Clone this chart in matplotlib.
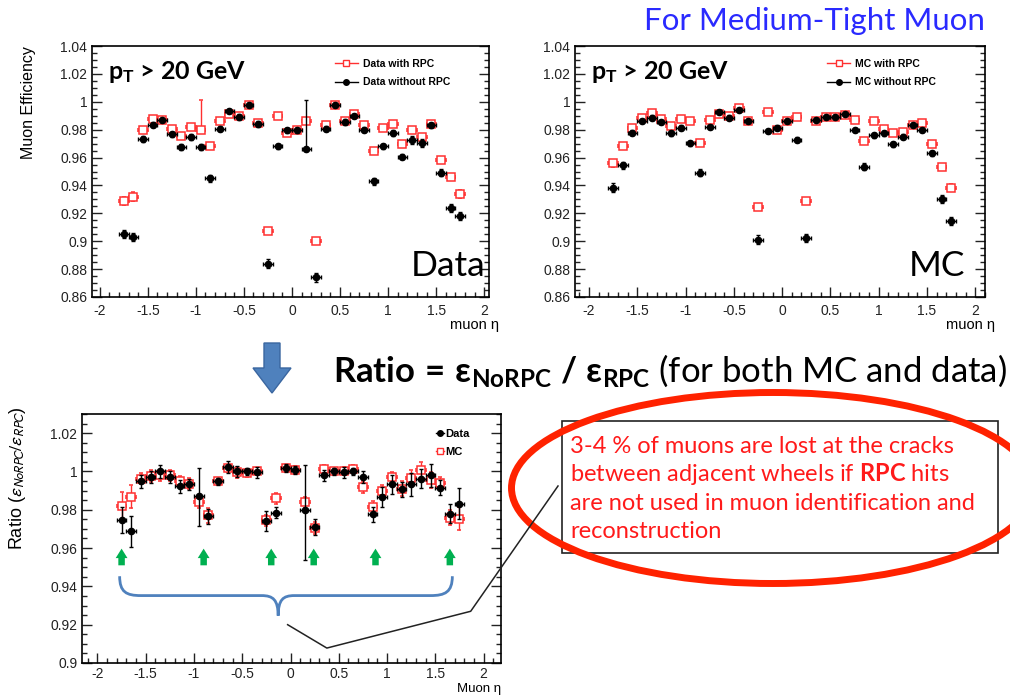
import numpy as np
import matplotlib
matplotlib.use("Agg")
import matplotlib.pyplot as plt
from matplotlib.lines import Line2D
from matplotlib.patches import Ellipse, Rectangle, Polygon, PathPatch
from matplotlib.path import Path
from matplotlib.ticker import MultipleLocator, FuncFormatter

# ---------------- eta bins ----------------
eta = [-1.75, -1.65, -1.55, -1.45, -1.35, -1.25, -1.15, -1.05, -0.95, -0.85,
       -0.75, -0.65, -0.55, -0.45, -0.35, -0.25, -0.15, -0.05, 0.05, 0.15,
       0.25, 0.35, 0.45, 0.55, 0.65, 0.75, 0.85, 0.95, 1.05, 1.15,
       1.25, 1.35, 1.45, 1.55, 1.65, 1.75]
bin_half_width = 0.05

# ---------------- data efficiencies ----------------
data_rpc = [0.929, 0.932, 0.9795, 0.9877, 0.9867, 0.9807, 0.9754, 0.982, 0.980, 0.968,
            0.9863, 0.991, 0.9896, 0.9976, 0.985, 0.907, 0.9896, 0.9776, 0.9795, 0.9863,
            0.900, 0.9831, 0.9976, 0.9863, 0.991, 0.983, 0.9646, 0.981, 0.984, 0.970,
            0.9795, 0.9747, 0.984, 0.958, 0.946, 0.934]
data_rpc_err_lo = [0.003, 0.003, 0.0015, 0.0015, 0.0015, 0.0015, 0.0015, 0.0015, 0.0015, 0.002,
                   0.0015, 0.0015, 0.0015, 0.0012, 0.0015, 0.002, 0.0015, 0.0015, 0.0015, 0.0015,
                   0.002, 0.0015, 0.0012, 0.0015, 0.0015, 0.0015, 0.002, 0.0015, 0.0015, 0.002,
                   0.002, 0.002, 0.0015, 0.002, 0.002, 0.003]
data_rpc_err_hi = [0.003, 0.003, 0.0015, 0.0015, 0.0015, 0.0015, 0.0015, 0.0015, 0.021, 0.002,
                   0.0015, 0.0015, 0.0015, 0.0012, 0.0015, 0.002, 0.0015, 0.0015, 0.0015, 0.0015,
                   0.002, 0.0015, 0.0012, 0.0015, 0.0015, 0.0015, 0.002, 0.0015, 0.0015, 0.002,
                   0.002, 0.002, 0.0015, 0.002, 0.002, 0.003]

data_norpc = [0.905, 0.903, 0.9735, 0.9836, 0.9867, 0.9766, 0.9675, 0.9747, 0.9675, 0.945,
              0.9807, 0.9935, 0.989, 0.9976, 0.984, 0.884, 0.968, 0.9795, 0.9795, 0.9663,
              0.874, 0.9807, 0.9976, 0.9855, 0.9896, 0.980, 0.943, 0.968, 0.9776, 0.9607,
              0.9728, 0.9704, 0.983, 0.949, 0.924, 0.918]
data_norpc_err_lo = [0.003, 0.003, 0.002, 0.002, 0.0015, 0.002, 0.002, 0.002, 0.002, 0.0025,
                     0.002, 0.0015, 0.002, 0.0012, 0.002, 0.003, 0.002, 0.002, 0.002, 0.0015,
                     0.003, 0.002, 0.0012, 0.002, 0.0015, 0.002, 0.0025, 0.002, 0.002, 0.002,
                     0.003, 0.003, 0.002, 0.0025, 0.003, 0.003]
data_norpc_err_hi = [0.003, 0.003, 0.002, 0.002, 0.0015, 0.002, 0.002, 0.002, 0.002, 0.0025,
                     0.002, 0.0015, 0.002, 0.0012, 0.002, 0.003, 0.002, 0.002, 0.002, 0.035,
                     0.003, 0.002, 0.0012, 0.002, 0.0015, 0.002, 0.0025, 0.002, 0.002, 0.002,
                     0.003, 0.003, 0.002, 0.0025, 0.003, 0.003]

# ---------------- MC efficiencies ----------------
mc_rpc = [0.9558, 0.9683, 0.9815, 0.9882, 0.9918, 0.9875, 0.9827, 0.9875, 0.9865, 0.9702,
          0.987, 0.9913, 0.9899, 0.9952, 0.9863, 0.9245, 0.9928, 0.9798, 0.9863, 0.9894,
          0.9291, 0.9865, 0.9894, 0.9894, 0.9904, 0.987, 0.9719, 0.9865, 0.9803, 0.9779,
          0.9786, 0.9832, 0.9846, 0.9697, 0.9534, 0.9385]
mc_rpc_err = [0.0025, 0.002, 0.0015, 0.0012, 0.0012, 0.0012, 0.0015, 0.0012, 0.0012, 0.0018,
              0.0012, 0.0012, 0.0012, 0.0012, 0.0012, 0.0022, 0.0012, 0.0012, 0.0012, 0.0012,
              0.0022, 0.0012, 0.0012, 0.0012, 0.0012, 0.0012, 0.0018, 0.0012, 0.0012, 0.0015,
              0.0015, 0.0012, 0.0012, 0.0018, 0.002, 0.0025]
mc_norpc = [0.9385, 0.9546, 0.9779, 0.9863, 0.9887, 0.9853, 0.9774, 0.9815, 0.9702, 0.949,
            0.9822, 0.993, 0.9887, 0.9942, 0.9863, 0.9012, 0.9793, 0.9815, 0.9863, 0.9726,
            0.9024, 0.987, 0.989, 0.9894, 0.9909, 0.9798, 0.9534, 0.976, 0.9774, 0.9697,
            0.975, 0.9834, 0.9798, 0.963, 0.9303, 0.9144]
mc_norpc_err = [0.003, 0.0025, 0.0018, 0.0015, 0.0015, 0.0015, 0.0018, 0.0015, 0.0018, 0.0025,
                0.0015, 0.0012, 0.0015, 0.0012, 0.0015, 0.003, 0.0015, 0.0015, 0.0015, 0.0018,
                0.003, 0.0015, 0.0012, 0.0012, 0.0012, 0.0015, 0.0025, 0.0018, 0.0018, 0.0018,
                0.0018, 0.0015, 0.0015, 0.002, 0.003, 0.003]

# ---------------- ratio eps(NoRPC)/eps(RPC) ----------------
ratio_data = [0.9745, 0.9687, 0.9948, 0.9972, 1.0, 0.9972, 0.9923, 0.9932, 0.9871, 0.9766,
              0.9948, 1.0024, 1.0, 1.0, 0.9995, 0.9741, 0.9785, 1.0019, 1.0009, 0.9797,
              0.971, 0.998, 1.0, 0.9995, 1.0, 0.9972, 0.9776, 0.9867, 0.9934, 0.9906,
              0.9934, 0.9963, 0.998, 0.9916, 0.978, 0.9832]
ratio_data_err_lo = [0.0068, 0.008, 0.0033, 0.003, 0.0035, 0.003, 0.0035, 0.003, 0.0158, 0.004,
                     0.002, 0.003, 0.003, 0.002, 0.003, 0.005, 0.003, 0.002, 0.002, 0.0258,
                     0.004, 0.003, 0.002, 0.003, 0.002, 0.003, 0.004, 0.005, 0.005, 0.004,
                     0.006, 0.005, 0.006, 0.004, 0.005, 0.008]
ratio_data_err_hi = [0.0068, 0.008, 0.0033, 0.003, 0.0035, 0.003, 0.0035, 0.003, 0.0145, 0.004,
                     0.002, 0.003, 0.003, 0.002, 0.003, 0.005, 0.003, 0.002, 0.002, 0.0236,
                     0.004, 0.003, 0.002, 0.003, 0.002, 0.003, 0.004, 0.005, 0.005, 0.004,
                     0.006, 0.005, 0.006, 0.004, 0.005, 0.008]
ratio_mc = [0.9818, 0.9867, 0.9962, 0.9976, 0.998, 0.998, 0.9948, 0.9937, 0.9838, 0.9771,
            0.9948, 1.0016, 0.9995, 0.9993, 1.0, 0.9745, 0.986, 1.0016, 1.0007, 0.9839,
            0.9705, 1.0012, 1.0, 1.0003, 1.0012, 0.992, 0.9815, 0.9897, 0.9969, 0.9911,
            0.9967, 1.0007, 0.9955, 0.9941, 0.9759, 0.9754]
ratio_mc_err = [0.0074, 0.006, 0.003, 0.003, 0.003, 0.003, 0.003, 0.003, 0.003, 0.004,
                0.002, 0.002, 0.003, 0.002, 0.002, 0.003, 0.003, 0.002, 0.002, 0.003,
                0.003, 0.002, 0.002, 0.002, 0.002, 0.003, 0.003, 0.003, 0.003, 0.004,
                0.004, 0.004, 0.004, 0.003, 0.004, 0.006]

# eta positions of the cracks between adjacent barrel wheels
crack_eta = [-1.75, -0.9, -0.2, 0.24, 0.88, 1.65]

# ---------------- style ----------------
RED = "#ff3030"
W, H = 1010, 696
plt.rcParams.update({
    "font.family": ["Liberation Sans", "DejaVu Sans"],
    "mathtext.fontset": "custom",
    "mathtext.rm": "Lato",
    "mathtext.it": "Lato:italic",
    "mathtext.bf": "Lato:bold",
    "axes.linewidth": 1.2,
})

fig = plt.figure(figsize=(W / 100, H / 100), dpi=100)
fig.patch.set_facecolor("white")


def fx(x):
    return x / W


def fy(y):
    return 1 - y / H


def add_axes_px(x0, y0, x1, y1):
    return fig.add_axes([fx(x0), fy(y1), (x1 - x0) / W, (y1 - y0) / H])


def tick_fmt(v, pos):
    if abs(v) < 1e-9:
        v = 0.0
    return f"{v:g}"


def style_axes(ax, xlim, ylim):
    ax.set_xlim(*xlim)
    ax.set_ylim(*ylim)
    ax.xaxis.set_major_locator(MultipleLocator(0.5))
    ax.xaxis.set_minor_locator(MultipleLocator(0.1))
    ax.yaxis.set_major_locator(MultipleLocator(0.02))
    ax.yaxis.set_minor_locator(MultipleLocator(0.005))
    ax.xaxis.set_major_formatter(FuncFormatter(tick_fmt))
    ax.yaxis.set_major_formatter(FuncFormatter(tick_fmt))
    ax.tick_params(which="both", direction="in", top=False, right=True,
                   labelsize=10, width=1, colors="#222222")
    ax.tick_params(which="major", length=7)
    ax.tick_params(which="minor", length=3.5)
    ax.tick_params(axis="x", pad=5)


def eff_panel(ax, y_rpc, err_rpc, y_norpc, err_norpc, labels, big_label,
              legend_x, label_x):
    ax.errorbar(eta, y_rpc, yerr=err_rpc, xerr=bin_half_width, fmt="s",
                color=RED, mfc="white", mec=RED, mew=1.1, ms=5.5,
                elinewidth=1, capsize=1.5, zorder=3)
    ax.errorbar(eta, y_norpc, yerr=err_norpc, xerr=bin_half_width, fmt="o",
                color="black", ms=4.5, elinewidth=1, capsize=1.5, zorder=4)
    handles = [Line2D([0], [0], color=RED, lw=1, marker="s", mfc="white",
                      mec=RED, ms=5),
               Line2D([0], [0], color="black", lw=1, marker="o", ms=4)]
    ax.legend(handles, labels, loc="upper left", bbox_to_anchor=(legend_x, 0.95),
              frameon=False, handlelength=2.2, handletextpad=0.5,
              labelspacing=0.85, borderpad=0, borderaxespad=0,
              prop={"family": "Liberation Sans", "weight": "bold", "size": 7.5})
    ax.text(0.04, 0.895, r"$\mathbf{p_T}$ > 20 GeV", transform=ax.transAxes,
            ha="left", va="center", fontsize=18, fontweight="bold",
            family="Lato", color="black")
    ax.text(label_x, 0.084, big_label, transform=ax.transAxes, ha="right",
            va="baseline", fontsize=25.5, family="Lato", color="black")
    ax.set_xlabel("muon η", fontsize=10.5, loc="right")
    ax.xaxis.set_label_coords(1.025, -0.085)


# ---------------- top left: data ----------------
ax_data = add_axes_px(92, 46, 489, 297)
style_axes(ax_data, (-2.08, 2.05), (0.86, 1.04))
eff_panel(ax_data, data_rpc, [data_rpc_err_lo, data_rpc_err_hi],
          data_norpc, [data_norpc_err_lo, data_norpc_err_hi],
          ["Data with RPC", "Data without RPC"], "Data", 0.612, 0.99)
ax_data.set_ylabel("Muon Efficiency", fontsize=11.5, loc="top")
ax_data.yaxis.set_label_coords(-0.14, 1.0)

# ---------------- top right: MC ----------------
ax_mc = add_axes_px(575, 46, 985, 297)
style_axes(ax_mc, (-2.145, 2.1), (0.86, 1.04))
eff_panel(ax_mc, mc_rpc, mc_rpc_err, mc_norpc, mc_norpc_err,
          ["MC with RPC", "MC without RPC"], "MC", 0.615, 0.951)

# ---------------- bottom: ratio ----------------
ax_r = add_axes_px(82, 414, 501, 663)
style_axes(ax_r, (-2.16, 2.18), (0.9, 1.03))
ax_r.tick_params(axis="x", pad=3)
ax_r.errorbar(eta, ratio_mc, yerr=ratio_mc_err, xerr=bin_half_width, fmt="s",
              color=RED, mfc="white", mec=RED, mew=1.1, ms=5.5,
              elinewidth=1, capsize=1.5, zorder=3)
ax_r.errorbar(eta, ratio_data, yerr=[ratio_data_err_lo, ratio_data_err_hi],
              xerr=bin_half_width, fmt="o", color="black", ms=4.5,
              elinewidth=1, capsize=1.5, zorder=4)
r_handles = [Line2D([0], [0], color="black", lw=1, marker="o", ms=4),
             Line2D([0], [0], color=RED, lw=1, marker="s", mfc="white", mec=RED, ms=5)]
ax_r.legend(r_handles, ["Data", "MC"], loc="upper left", bbox_to_anchor=(0.845, 0.94),
            frameon=False, handlelength=0.7, handletextpad=0.1,
            labelspacing=0.75, borderpad=0, borderaxespad=0,
            prop={"family": "Liberation Sans", "weight": "bold", "size": 8})
ax_r.set_ylabel(r"Ratio ($\epsilon_{NoRPC}/\epsilon_{RPC}$)", fontsize=13,
                loc="top", math_fontfamily="stixsans")
ax_r.yaxis.set_label_coords(-0.128, 1.03)
ax_r.set_xlabel("Muon η", fontsize=9.5, loc="right")
ax_r.xaxis.set_label_coords(1.0, -0.082)

# green arrows marking the cracks
for xc in crack_eta:
    ax_r.annotate("", xy=(xc, 0.9597), xytext=(xc, 0.951),
                  arrowprops=dict(arrowstyle="simple,head_length=0.8,head_width=1.0,tail_width=0.55",
                                  fc="#00b050", ec="none", mutation_scale=8.5,
                                  shrinkA=0, shrinkB=0), zorder=5)

# curly brace spanning all cracks
brace_verts = [(-1.77, 0.9453),
               (-1.77, 0.937), (-1.70, 0.9352), (-1.55, 0.9352),
               (-0.30, 0.9352),
               (-0.18, 0.9352), (-0.13, 0.933), (-0.128, 0.9247),
               (-0.126, 0.933), (-0.08, 0.9352), (0.04, 0.9352),
               (1.45, 0.9352),
               (1.60, 0.9352), (1.676, 0.937), (1.676, 0.9453)]
brace_codes = [Path.MOVETO,
               Path.CURVE4, Path.CURVE4, Path.CURVE4,
               Path.LINETO,
               Path.CURVE4, Path.CURVE4, Path.CURVE4,
               Path.CURVE4, Path.CURVE4, Path.CURVE4,
               Path.LINETO,
               Path.CURVE4, Path.CURVE4, Path.CURVE4]
ax_r.add_patch(PathPatch(Path(brace_verts, brace_codes), fill=False,
                         ec="#4f81bd", lw=2, zorder=5))

# ---------------- slide annotations ----------------
fig.text(fx(985), fy(21), "For Medium-Tight Muon", ha="right", va="center",
         fontsize=22.5, family="Lato", color="#2a2aff")

# blue down arrow
arrow_px = [(264, 343), (280, 343), (280, 368), (291, 368), (272, 393),
            (253, 368), (264, 368)]
fig.add_artist(Polygon([(fx(x), fy(y)) for x, y in arrow_px], closed=True,
                       transform=fig.transFigure, fc="#4f81bd", ec="#3a66a0",
                       lw=1))

fig.text(fx(333), fy(371),
         r"$\mathbf{Ratio\,=\,ε_{NoRPC}\ /\ ε_{RPC}}$ (for both MC and data)",
         ha="left", va="center", fontsize=25, family="Lato", color="black")

# connector from the brace to the comment box
pts = ax_r.transData.transform([(-0.03, 0.920), (0.376, 0.9078), (1.866, 0.927)])
pts = fig.transFigure.inverted().transform(pts)
xs = list(pts[:, 0]) + [fx(558)]
ys = list(pts[:, 1]) + [fy(486)]
fig.add_artist(Line2D(xs, ys, transform=fig.transFigure, color="#222222", lw=1.1))

# comment box
fig.add_artist(Rectangle((fx(562), fy(553)), (998 - 562) / W, (553 - 421) / H,
                         transform=fig.transFigure, fc="white", ec="#222222", lw=1.2))
box_lines = ["3-4 % of muons are lost at the cracks",
             r"between adjacent wheels if $\mathbf{RPC}$ hits",
             "are not used in muon identification and",
             "reconstruction"]
for i, line in enumerate(box_lines):
    fig.text(fx(570), fy(453 + 28.3 * i), line, ha="left", va="baseline",
             fontsize=17, family="Lato", color="#ff1a1a")

# red ellipse around the comment
fig.add_artist(Ellipse((fx(773), fy(488)), 523 / W, 191 / H,
                       transform=fig.transFigure, fill=False,
                       ec="#ff2200", lw=5))

fig.savefig("out.png", dpi=100, facecolor="white")
